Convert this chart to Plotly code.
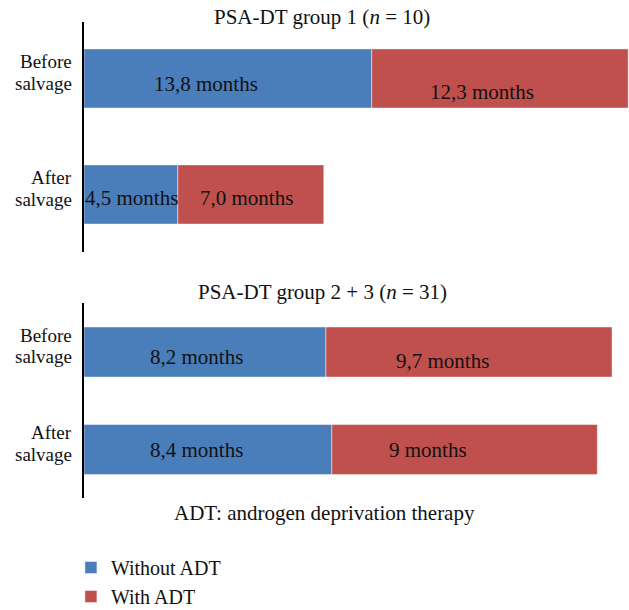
import plotly.graph_objects as go

# --- data -------------------------------------------------------------
categories = ["Before salvage", "After salvage"]
panel_titles = ["PSA-DT group 1 (<i>n</i> = 10)", "PSA-DT group 2 + 3 (<i>n</i> = 31)"]

g1_without_adt = [13.8, 4.5]
g1_with_adt = [12.3, 7.0]
g1_without_labels = ["13,8 months", "4,5 months"]
g1_with_labels = ["12,3 months", "7,0 months"]

g23_without_adt = [8.2, 8.4]
g23_with_adt = [9.7, 9.0]
g23_without_labels = ["8,2 months", "8,4 months"]
g23_with_labels = ["9,7 months", "9 months"]

series_names = ["Without ADT", "With ADT"]
footnote = "ADT: androgen deprivation therapy"

# --- styling ------------------------------------------------------------
BLUE = "#4a7ebb"
RED = "#c0504d"
EDGE = "rgba(255,255,255,0.45)"
FONT = "Liberation Serif"
FS = 21
FS_CAT = 19
FS_LEG = 20
W, H, ML = 629, 610, 84
PW = W - ML

fig = go.Figure()

panels = [
    dict(xa="x", ya="y", without=g1_without_adt, with_=g1_with_adt,
         wl=g1_without_labels, rl=g1_with_labels, width=0.51,
         # label offsets in px (x, y) for [before, after]
         woff=[(-22, -6), (1, -4)], roff=[(-18, -14), (-4, -4)]),
    dict(xa="x2", ya="y2", without=g23_without_adt, with_=g23_with_adt,
         wl=g23_without_labels, rl=g23_with_labels, width=0.513,
         woff=[(-8, -5), (-11, 0)], roff=[(-26, -9), (-37, 0)]),
]

annotations = []
for i, p in enumerate(panels):
    fig.add_trace(go.Bar(
        y=categories, x=p["without"], orientation="h", name=series_names[0],
        marker=dict(color=BLUE, line=dict(width=1, color=EDGE)), width=p["width"],
        xaxis=p["xa"], yaxis=p["ya"], legendgroup="w", showlegend=(i == 0),
        hoverinfo="skip"))
    fig.add_trace(go.Bar(
        y=categories, x=p["with_"], orientation="h", name=series_names[1],
        marker=dict(color=RED, line=dict(width=1, color=EDGE)), width=p["width"],
        xaxis=p["xa"], yaxis=p["ya"], legendgroup="r", showlegend=(i == 0),
        base=p["without"], hoverinfo="skip"))

    for j, cat in enumerate(categories):
        w = p["without"][j]
        r = p["with_"][j]
        dx, dy = p["woff"][j]
        annotations.append(dict(
            x=w / 2, y=cat, xref=p["xa"], yref=p["ya"], text=p["wl"][j],
            showarrow=False, xshift=dx, yshift=dy,
            font=dict(family=FONT, size=FS, color="#111")))
        dx, dy = p["roff"][j]
        annotations.append(dict(
            x=w + r / 2, y=cat, xref=p["xa"], yref=p["ya"], text=p["rl"][j],
            showarrow=False, xshift=dx, yshift=dy,
            font=dict(family=FONT, size=FS, color="#111")))
        # two-line category label, drawn line by line for tight leading
        first, second = cat.split(" ")
        annotations.append(dict(
            x=0, y=cat, xref=p["xa"], yref=p["ya"], text=first,
            showarrow=False, xanchor="right", xshift=-10, yshift=16.75,
            font=dict(family=FONT, size=FS_CAT, color="#111")))
        annotations.append(dict(
            x=0, y=cat, xref=p["xa"], yref=p["ya"], text=second,
            showarrow=False, xanchor="right", xshift=-10, yshift=-4.75,
            font=dict(family=FONT, size=FS_CAT, color="#111")))

# panel titles and footnote, placed in pixel terms on the paper
for text, px, py in [(panel_titles[0], 322, 17), (panel_titles[1], 322, 292),
                     (footnote, 324, 513)]:
    annotations.append(dict(
        x=(px - ML) / PW, y=1 - py / H, xref="paper", yref="paper", text=text,
        showarrow=False, xanchor="center", yanchor="middle",
        font=dict(family=FONT, size=FS, color="#111")))

axis_common = dict(showgrid=False, zeroline=False, showticklabels=False, ticks="")

fig.update_layout(
    width=W, height=H,
    margin=dict(l=ML, r=0, t=0, b=0, autoexpand=False),
    paper_bgcolor="white", plot_bgcolor="white",
    barmode="overlay",
    showlegend=True,
    legend=dict(x=-0.024, y=1 - 548 / H, xanchor="left", yanchor="top",
                font=dict(family=FONT, size=FS_LEG, color="#111"),
                bgcolor="rgba(0,0,0,0)", tracegroupgap=0),
    annotations=annotations,
    xaxis=dict(domain=[0, 1], range=[0, PW / 20.85], visible=False, anchor="y"),
    xaxis2=dict(domain=[0, 1], range=[0, PW / 29.5], visible=False, anchor="y2"),
    yaxis=dict(domain=[1 - 252 / H, 1 - 22 / H], range=[1.496, -0.487],
               type="category", categoryarray=categories, anchor="x",
               showline=True, linecolor="black", linewidth=1.5, **axis_common),
    yaxis2=dict(domain=[1 - 498 / H, 1 - 303 / H], range=[1.497, -0.503],
                type="category", categoryarray=categories, anchor="x2",
                showline=True, linecolor="black", linewidth=1.5, **axis_common),
)

fig.write_html("out.html")
